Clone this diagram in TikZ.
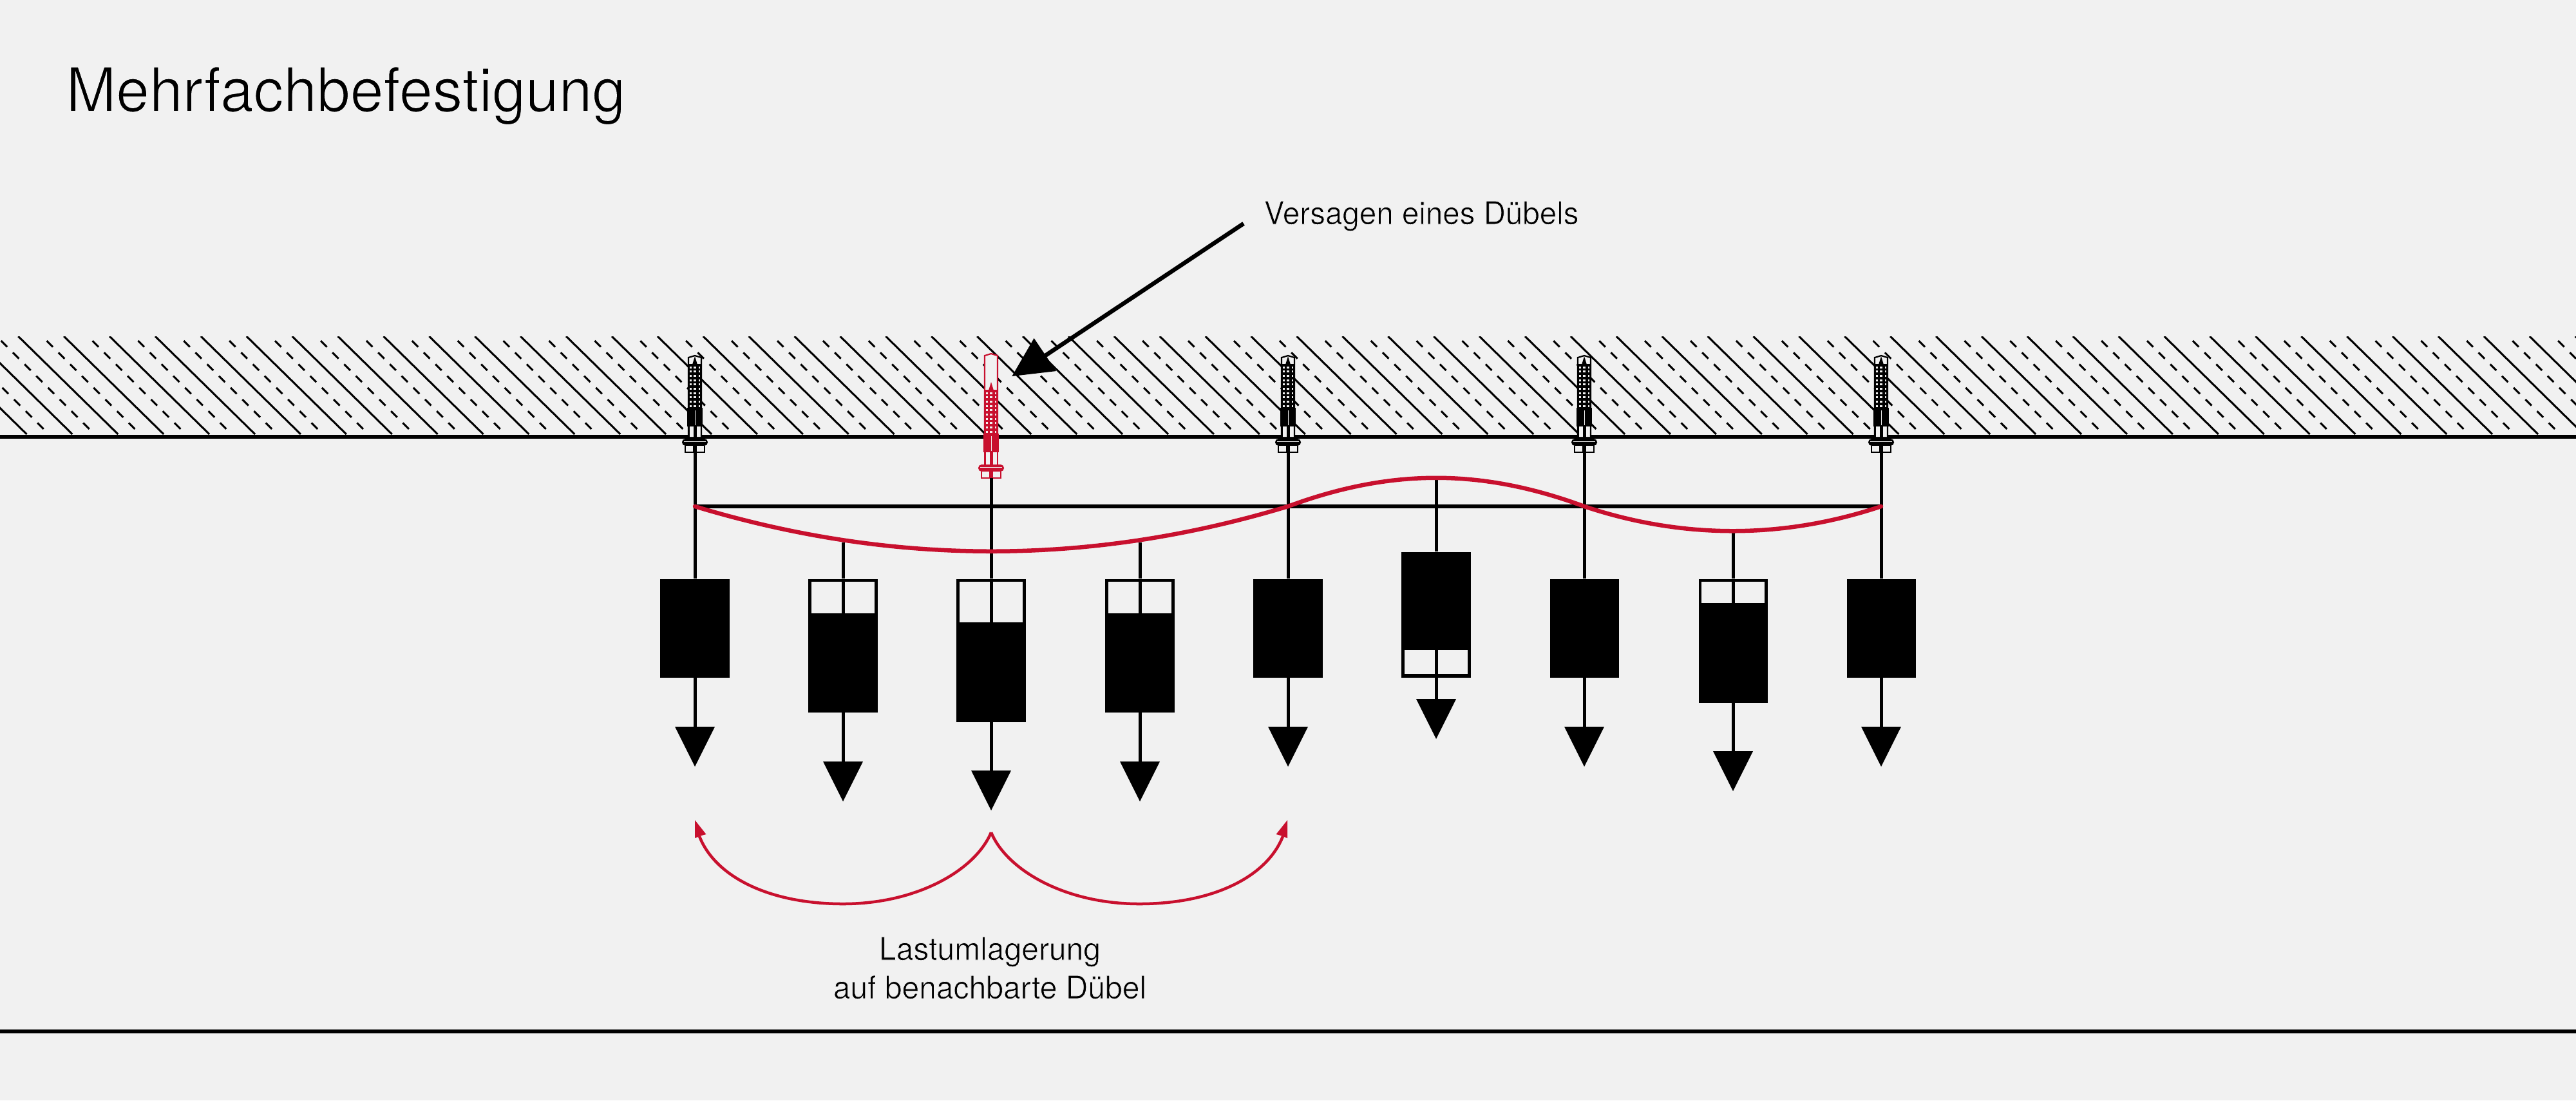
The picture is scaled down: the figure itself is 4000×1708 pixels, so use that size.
\documentclass[tikz,border=0pt]{standalone}
\usepackage{fontspec}
\setmainfont[FakeStretch=0.965]{TeX Gyre Heros}
\newfontfamily\titlefont[FakeStretch=0.98]{TeX Gyre Heros}
\newfontfamily\lowerfont[FakeStretch=0.975]{TeX Gyre Heros}
\definecolor{bgc}{RGB}{241,241,241}
\definecolor{redc}{RGB}{200,16,46}
\newcommand{\lighttext}[2][0.22]{\special{pdf:code q 2 Tr #1 w 0.945 0.945 0.945 RG}#2\special{pdf:code Q}}
\tikzset{x=0.01cm,y=-0.01cm,
  rule/.style={black,line width=0.065cm},
  stem/.style={black,line width=0.05cm},
  hatch/.style={black,line width=0.03cm},
  curvered/.style={redc,line width=0.065cm},
  arcred/.style={redc,line width=0.045cm},
  lab/.style={inner sep=0pt,anchor=base,font=\fontsize{14pt}{14pt}\selectfont,text=black},
  loadbox/.style={fill=black,draw=none,inner sep=0pt,minimum width=1.07cm,anchor=north}}
% \dowel{name}{x}{sleeve top}{screw tip y}{colour}
\newcommand{\dowel}[5]{%
  \begin{scope}[shift={(#2,0)}]
  \filldraw[fill=bgc,draw=#5,line width=0.022cm] (-10,678) -- (-10,#3+3) -- (0,#3) -- (10,#3+3) -- (10,678);
  \fill[#5] (-10,#4+12) rectangle (10,#4+80);
  \fill[#5] (0,#4) -- (-4,#4+13) -- (4,#4+13) -- cycle;
  \foreach \r in {0,...,9}{
    \fill[bgc] (-8,#4+15.5+\r*6.7) rectangle (-5.5,#4+18.5+\r*6.7);
    \fill[bgc] (-2.2,#4+15.5+\r*6.7) rectangle (2.2,#4+18.5+\r*6.7);
    \fill[bgc] (5.5,#4+15.5+\r*6.7) rectangle (8,#4+18.5+\r*6.7);
  }
  \fill[#5] (-12,#4+80) rectangle (12,#4+109);
  \fill[bgc] (-0.5,#4+84) rectangle (0.5,#4+107);
  \fill[#5] (-11,#4+109) rectangle (-8.5,#4+128);
  \fill[#5] (8.5,#4+109) rectangle (11,#4+128);
  \fill[#5] (-2.5,#4+109) rectangle (2.5,#4+128);
  \fill[#5,rounded corners=1.5pt] (-20,#4+128) rectangle (20,#4+139);
  \fill[bgc] (-17,#4+132) rectangle (17,#4+133);
  \filldraw[fill=bgc,draw=#5,line width=0.022cm] (-15,#4+139) -- (-15,#4+149) -- (15,#4+149) -- (15,#4+139);
  \fill[#5] (-3,#4+139) rectangle (3,#4+149);
  \end{scope}}
% \loadunit{id}{x}{stem start}{top}{bottom}{arrow base}{white top}{white bottom}
\newcommand{\loadunit}[8]{%
  \coordinate (s#1) at (#2,#3);
  \node[loadbox,minimum height={(#5-#4)*0.01cm}] (b#1) at (#2,#4) {};
  \ifdim #8pt>#7pt \fill[bgc] (#2-49,#7) rectangle (#2+49,#8);\fi
  \coordinate (h#1) at (#2,#6);
  \draw[stem] (s#1) -- (b#1.north);
  \ifdim #8pt>#7pt \draw[stem] (#2,#7) -- (#2,#8);\fi
  \draw[stem] (b#1.south) -- (h#1);
  \fill[black] (#2-31,#6) -- (#2+31,#6) -- (#2,#6+62) -- cycle;}
\begin{document}
\begin{tikzpicture}
\useasboundingbox (0,0) rectangle (4000,1708);
\fill[bgc] (0,0) rectangle (4000,1708);
% hatching
\begin{scope}
\clip (0,522) rectangle (4000,675);
\foreach \k in {-3,...,56}{
  \draw[hatch] (28.3+70.9*\k,522) -- ++(155,152);
  \foreach \r in {0,...,7}{
    \draw[hatch] (1.7+70.9*\k+\r*18.2,529+\r*18.2) -- ++(9.5,9.5);
  }
}
\end{scope}
\coordinate (gl) at (0,678); \coordinate (gr) at (4000,678);
\draw[rule] (gl) -- (gr);
\coordinate (fl) at (0,1601); \coordinate (fr) at (4000,1601);
\draw[rule] (fl) -- (fr);
% dowels
\dowel{d1}{1079}{552}{553}{black}
\dowel{d3}{2000}{552}{553}{black}
\dowel{d4}{2460}{552}{553}{black}
\dowel{d5}{2921}{552}{553}{black}
\dowel{d2}{1539}{549}{593}{redc}
% beam
\coordinate (a1) at (1079,786); \coordinate (a9) at (2921,786);
\draw[rule] (a1) -- (a9);
% load units
\loadunit{1}{1079}{702}{898}{1051}{1128}{0}{0}
\loadunit{2}{1309}{842}{898}{1105}{1182}{903}{952}
\loadunit{3}{1539}{742}{898}{1120}{1196}{903}{966}
\loadunit{4}{1770}{842}{898}{1105}{1182}{903}{952}
\loadunit{5}{2000}{702}{898}{1051}{1128}{0}{0}
\loadunit{6}{2230}{742}{856}{1051}{1085}{1009}{1046}
\loadunit{7}{2460}{702}{898}{1051}{1128}{0}{0}
\loadunit{8}{2691}{824}{898}{1090}{1166}{903}{936}
\loadunit{9}{2921}{702}{898}{1051}{1128}{0}{0}
% deflection curve
\coordinate (c3) at (2000,786); \coordinate (c7) at (2460,786);
\draw[curvered,line cap=round] (a1) .. controls (1386,879) and (1693,879) .. (c3)
  .. controls (2160,727) and (2300,727) .. (c7)
  .. controls (2613,837) and (2768,837) .. (a9);
% lower arcs
\coordinate (m) at (1539,1292);
\coordinate (l) at (1086,1298); \coordinate (r) at (1992,1298);
\draw[arcred] (m) .. controls (1515,1350) and (1425,1403) .. (1309,1403) .. controls (1193,1403) and (1110,1360) .. (l);
\draw[arcred] (m) .. controls (1563,1350) and (1653,1403) .. (1769,1403) .. controls (1885,1403) and (1968,1360) .. (r);
\fill[redc] (1079,1273) -- (1079,1301) -- (1089,1297) -- (1096.5,1295) -- cycle;
\fill[redc] (1999,1273) -- (1999,1301) -- (1989,1297) -- (1981.5,1295) -- cycle;
% leader
\coordinate (ls) at (1931,347); \coordinate (le) at (1623,552);
\draw[black,line width=0.065cm] (ls) -- (le);
\fill[black] (1571.4,584) -- (1605.6,525) -- (1640,576) -- cycle;
% text
\node[lab,anchor=base west,font=\titlefont\fontsize{27pt}{27pt}\selectfont] (title) at (102,173) {\lighttext[0.45]{Mehrfachbefestigung}};
\node[lab,anchor=base west] (t1) at (1962,348) {\lighttext{Versagen eines Dübels}};
\node[lab,font=\lowerfont\fontsize{14pt}{14pt}\selectfont] (t2) at (1537,1490) {\lighttext{Lastumlagerung}};
\node[lab,font=\lowerfont\fontsize{14pt}{14pt}\selectfont] (t3) at (1537,1550) {\lighttext{auf benachbarte Dübel}};
\end{tikzpicture}
\end{document}
